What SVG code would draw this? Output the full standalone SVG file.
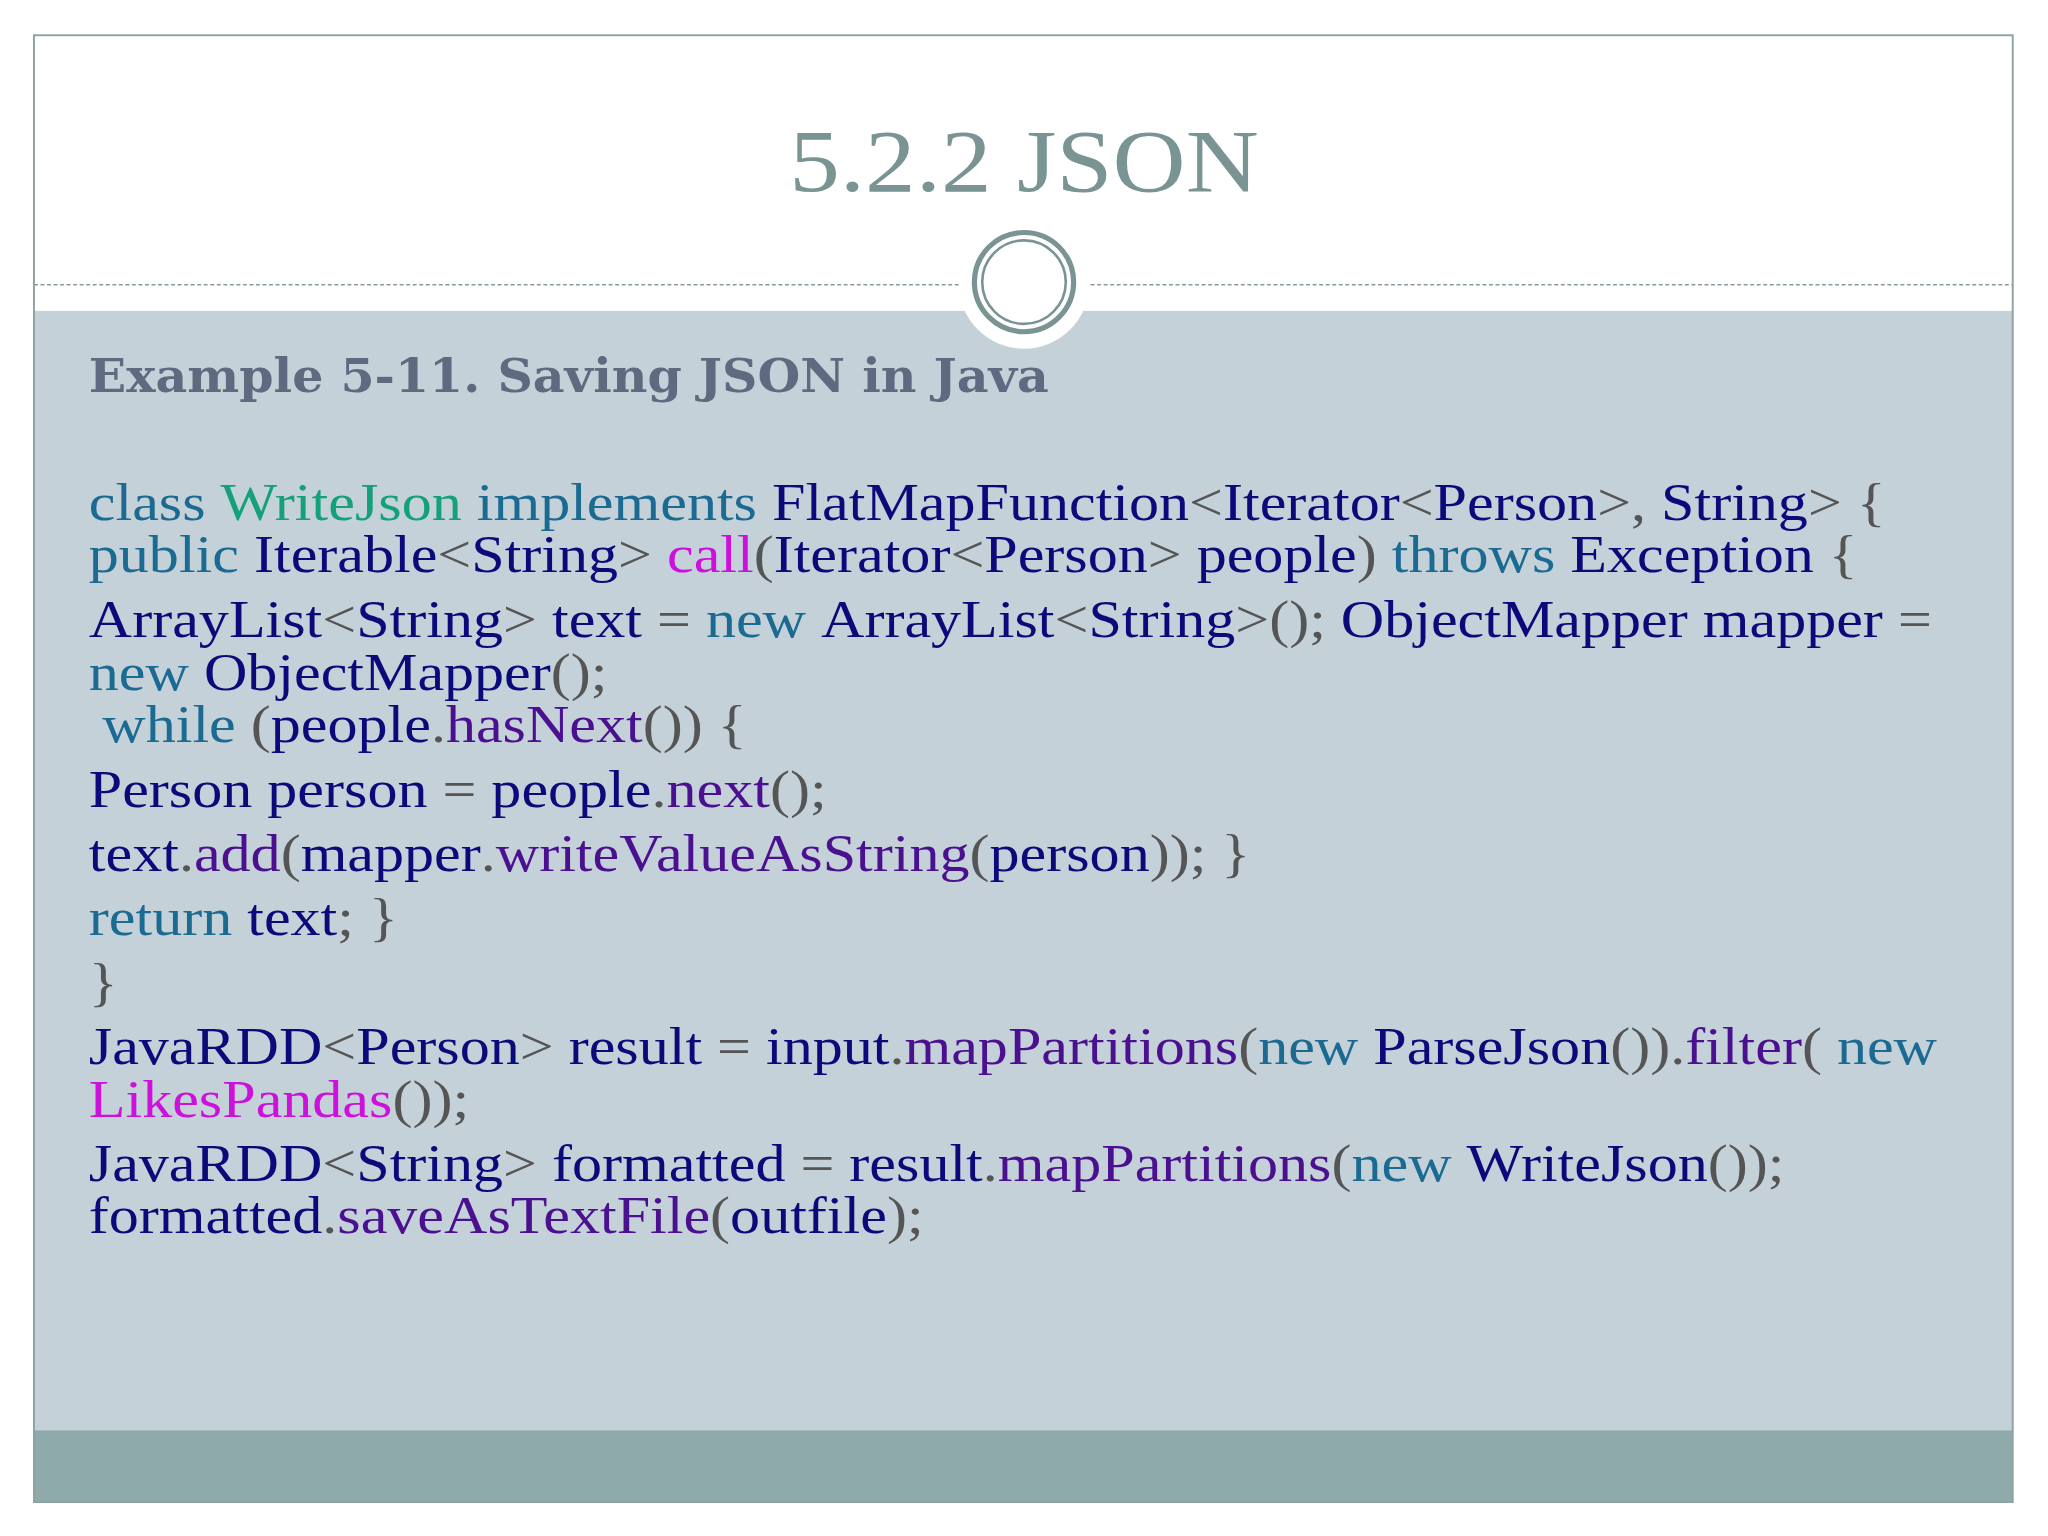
<svg xmlns="http://www.w3.org/2000/svg" width="2048" height="1536" viewBox="0 0 2048 1536">
<style>
.c{font-family:"Liberation Serif","Times New Roman",serif;font-size:40px;fill:#555}
.k{fill:#1a6a91}.n{fill:#0a0a7a}.m{fill:#4a1090}.p{fill:#cc11dd}.g{fill:#14a07a}.o{fill:#555}
</style>
<rect width="2048" height="1536" fill="#fff"/>
<g transform="scale(1.30612)">
<rect x="26" y="238" width="1515" height="857" fill="#c5d1d8"/>
<rect x="26" y="1095" width="1515" height="55" fill="#8faaaa"/>
<rect x="26" y="27" width="1515" height="1123" fill="none" stroke="#8fa3a3" stroke-width="1.5"/>
<g id="divider">
<line x1="26" y1="218" x2="735" y2="218" stroke="#8a9a9a" stroke-dasharray="3,2"/>
<line x1="835" y1="218" x2="1541" y2="218" stroke="#8a9a9a" stroke-dasharray="3,2"/>
<circle cx="784" cy="217" r="50" fill="#fff"/>
<circle cx="784" cy="216" r="38" fill="none" stroke="#7a9494" stroke-width="4"/>
<circle cx="784" cy="216" r="32" fill="none" stroke="#7a9494" stroke-width="2"/>
</g>
<g transform="translate(784,0) scale(1.14,1) translate(-784,0)">
<text x="784" y="146" text-anchor="middle" font-family="Liberation Serif,serif" font-size="68" fill="#7a9494">5.2.2 JSON</text>
</g>
<g transform="translate(68,0) scale(1.044,1) translate(-68,0)">
<text x="68" y="300" font-family="DejaVu Serif,Liberation Serif,serif" font-weight="bold" font-size="36" fill="#5f6a80">Example 5-11. Saving JSON in Java</text>
</g>
<g id="code" class="c" transform="translate(68,0) scale(1.15,1) translate(-68,0)">
<text x="68" y="398"><tspan class="k">class </tspan><tspan class="g">WriteJson </tspan><tspan class="k">implements </tspan><tspan class="n">FlatMapFunction</tspan>&lt;<tspan class="n">Iterator</tspan>&lt;<tspan class="n">Person</tspan>&gt;, <tspan class="n">String</tspan>&gt; {</text>
<text x="68" y="438"><tspan class="k">public </tspan><tspan class="n">Iterable</tspan>&lt;<tspan class="n">String</tspan>&gt; <tspan class="p">call</tspan>(<tspan class="n">Iterator</tspan>&lt;<tspan class="n">Person</tspan>&gt; <tspan class="n">people</tspan>) <tspan class="k">throws </tspan><tspan class="n">Exception</tspan> {</text>
<text x="68" y="488"><tspan class="n">ArrayList</tspan>&lt;<tspan class="n">String</tspan>&gt; <tspan class="n">text</tspan> = <tspan class="k">new </tspan><tspan class="n">ArrayList</tspan>&lt;<tspan class="n">String</tspan>&gt;(); <tspan class="n">ObjectMapper mapper</tspan> =</text>
<text x="68" y="528"><tspan class="k">new </tspan><tspan class="n">ObjectMapper</tspan>();</text>
<text x="77" y="568"><tspan class="k">while </tspan>(<tspan class="n">people</tspan>.<tspan class="m">hasNext</tspan>()) {</text>
<text x="68" y="618"><tspan class="n">Person person</tspan> = <tspan class="n">people</tspan>.<tspan class="m">next</tspan>();</text>
<text x="68" y="667"><tspan class="n">text</tspan>.<tspan class="m">add</tspan>(<tspan class="n">mapper</tspan>.<tspan class="m">writeValueAsString</tspan>(<tspan class="n">person</tspan>)); }</text>
<text x="68" y="716"><tspan class="k">return </tspan><tspan class="n">text</tspan>; }</text>
<text x="68" y="766">}</text>
<text x="68" y="815"><tspan class="n">JavaRDD</tspan>&lt;<tspan class="n">Person</tspan>&gt; <tspan class="n">result</tspan> = <tspan class="n">input</tspan>.<tspan class="m">mapPartitions</tspan>(<tspan class="k">new </tspan><tspan class="n">ParseJson</tspan>()).<tspan class="m">filter</tspan>( <tspan class="k">new</tspan></text>
<text x="68" y="855"><tspan class="p">LikesPandas</tspan>());</text>
<text x="68" y="904"><tspan class="n">JavaRDD</tspan>&lt;<tspan class="n">String</tspan>&gt; <tspan class="n">formatted</tspan> = <tspan class="n">result</tspan>.<tspan class="m">mapPartitions</tspan>(<tspan class="k">new </tspan><tspan class="n">WriteJson</tspan>());</text>
<text x="68" y="944"><tspan class="n">formatted</tspan>.<tspan class="m">saveAsTextFile</tspan>(<tspan class="n">outfile</tspan>);</text>
</g>
</g>
</svg>
